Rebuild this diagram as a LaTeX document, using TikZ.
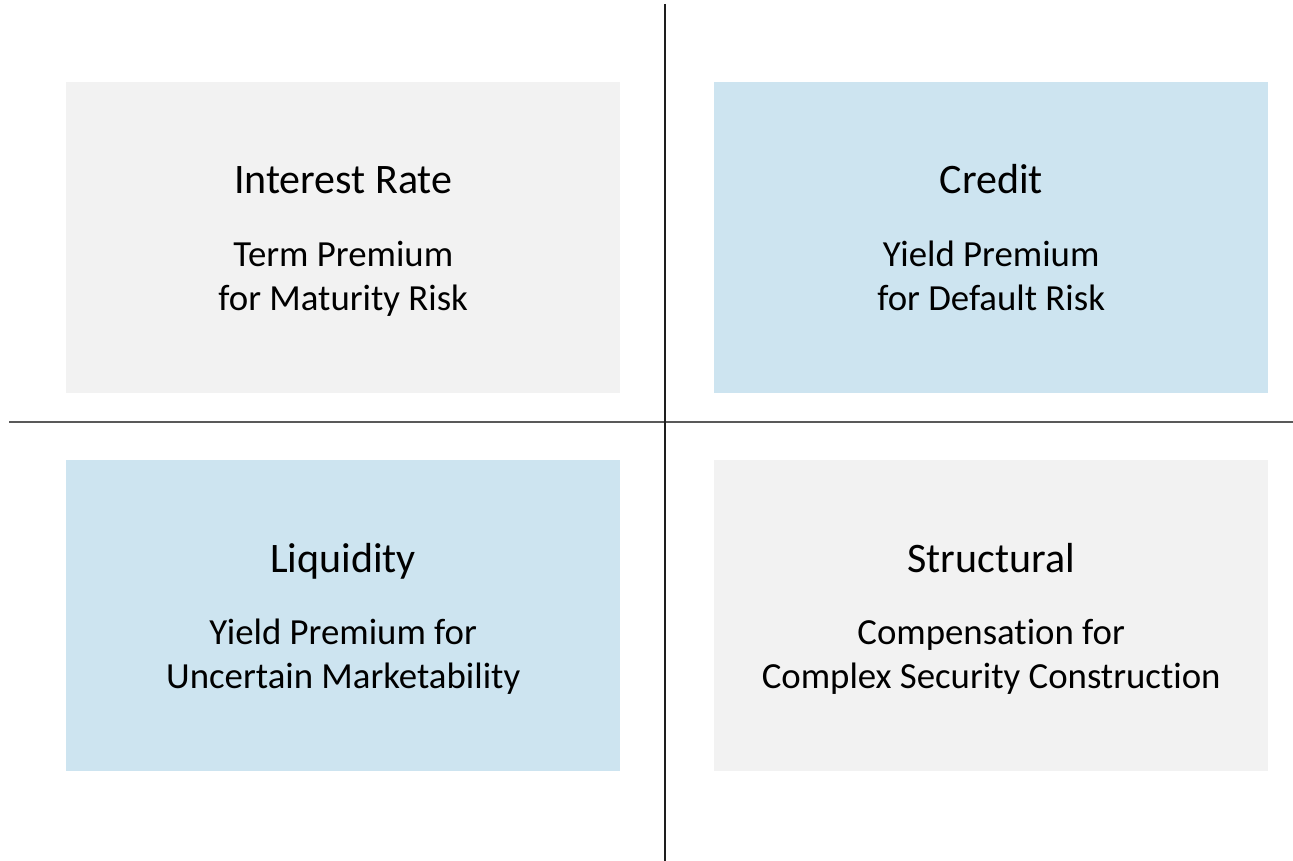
\documentclass[tikz,border=0pt]{standalone}
\usepackage{fontspec}
\setmainfont{Carlito}[RawFeature={-liga;-clig;-dlig}]
\usetikzlibrary{calc}
\definecolor{boxgray}{RGB}{242,242,242}
\definecolor{boxblue}{RGB}{205,228,240}
\definecolor{hline}{RGB}{89,89,89}
\definecolor{vline}{RGB}{30,30,30}
\begin{document}
\begin{tikzpicture}[x=1pt,y=-1pt,
  quad/.style={minimum width=554pt,minimum height=311pt,inner sep=0pt,anchor=north west,draw=none},
  graybox/.style={quad,fill=boxgray},
  bluebox/.style={quad,fill=boxblue},
  titletext/.style={anchor=base,font=\fontsize{42pt}{44pt}\selectfont,inner sep=0pt},
  bodytext/.style={anchor=base,font=\fontsize{36.8pt}{44pt}\selectfont,inner sep=0pt,align=center},
  divider/.style={line width=1.5pt}]
\useasboundingbox (0,0) rectangle (1293,861);
\node[graybox] (tl) at (66,82) {};
\node[bluebox] (tr) at (714,82) {};
\node[bluebox] (bl) at (66,460) {};
\node[graybox] (br) at (714,460) {};
\coordinate (vtop) at (665,4);
\coordinate (vbot) at (665,861);
\coordinate (hleft) at (9,422);
\coordinate (hright) at (1293,422);
\draw[divider,hline] (hleft) -- (hright);
\draw[divider,vline] (vtop) -- (vbot);
% top-left
\node[titletext] (tlt) at ($(tl.north)+(0,112)$) {Interest Rate};
\node[bodytext] (tlb1) at ($(tl.north)+(0,184)$) {Term Premium};
\node[bodytext] (tlb2) at ($(tl.north)+(0,228)$) {for Maturity Risk};
% top-right
\node[titletext] (trt) at ($(tr.north)+(0,112)$) {Credit};
\node[bodytext] (trb1) at ($(tr.north)+(0,184)$) {Yield Premium};
\node[bodytext] (trb2) at ($(tr.north)+(0,228)$) {for Default Risk};
% bottom-left
\node[titletext] (blt) at ($(bl.north)+(0,112)$) {Liquidity};
\node[bodytext] (blb1) at ($(bl.north)+(0,184)$) {Yield Premium for};
\node[bodytext] (blb2) at ($(bl.north)+(0,228)$) {Uncertain Marketability};
% bottom-right
\node[titletext] (brt) at ($(br.north)+(0,112)$) {Structural};
\node[bodytext] (brb1) at ($(br.north)+(0,184)$) {Compensation for};
\node[bodytext] (brb2) at ($(br.north)+(0,228)$) {Complex Security Construction};
\end{tikzpicture}
\end{document}
